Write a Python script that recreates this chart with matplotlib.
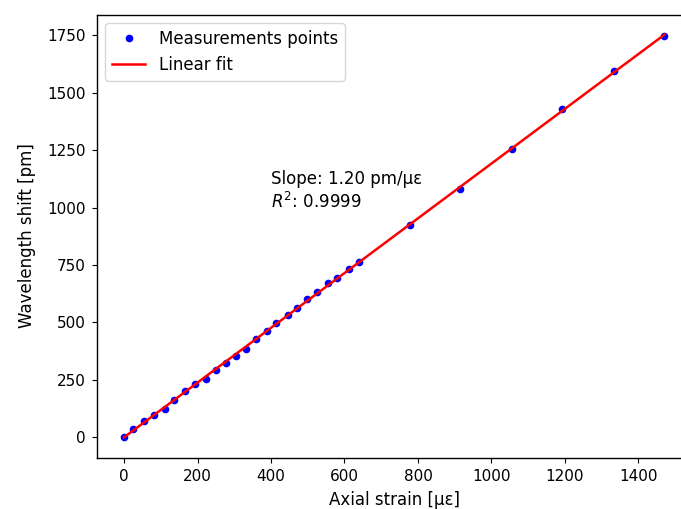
import matplotlib

matplotlib.use("Agg")
import matplotlib.pyplot as plt
import numpy as np

# Axial strain [µε] and wavelength shift [pm]
strain = [0, 25, 54, 81, 111, 137, 166, 193, 222, 249, 277, 304, 333, 360, 389,
          415, 445, 470, 499, 526, 556, 581, 611, 639, 778, 915, 1057, 1193, 1334, 1471]
shift = [0, 36, 68, 94, 123, 161, 199, 231, 254, 292, 322, 353, 384, 428, 461,
         498, 530, 562, 601, 632, 670, 693, 732, 763, 924, 1081, 1255, 1428, 1593, 1749]
slope_label = "1.20"
r2_label = "0.9999"

plt.rcParams["font.size"] = 12
plt.rcParams["xtick.labelsize"] = 11
plt.rcParams["ytick.labelsize"] = 11
plt.rcParams["xtick.major.size"] = 3.8
plt.rcParams["ytick.major.size"] = 3.8
plt.rcParams["xtick.major.pad"] = 4.5
plt.rcParams["ytick.major.pad"] = 4.5
plt.rcParams["axes.linewidth"] = 1.0

x = np.asarray(strain, dtype=float)
y = np.asarray(shift, dtype=float)
coef = np.polyfit(x, y, 1)

fig = plt.figure(figsize=(6.81, 5.09), dpi=100)
# the reference is cropped on the right, so the axes run past the figure edge
ax = fig.add_axes([97 / 681, 51.5 / 509, (691.5 - 97) / 681, (457.5 - 14.5) / 509])
ax.plot(x, y, "b.", ms=9, label="Measurements points")
ax.plot(x, np.polyval(coef, x), "r-", lw=1.8, label="Linear fit")
ax.text(400, 1000, f"Slope: {slope_label} pm/με\n$R^2$: {r2_label}")
ax.set_xlabel("Axial strain [με]", labelpad=5)
ax.set_ylabel("Wavelength shift [pm]", labelpad=8)
ax.legend(loc="upper left")
fig.savefig("out.png", dpi=100)
